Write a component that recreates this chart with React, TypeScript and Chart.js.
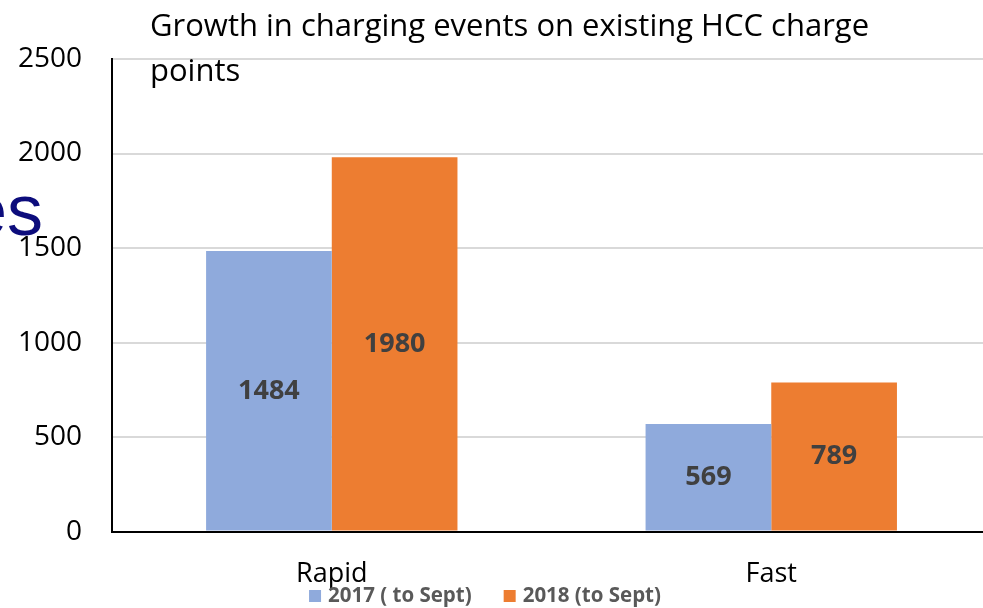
import React, { useEffect, useRef } from "react";
import { Chart, registerables } from "chart.js";

Chart.register(...registerables);

const categories = ["Rapid", "Fast"];
const seriesNames = ["2017 ( to Sept)", "2018 (to Sept)"];
const values2017 = [1484, 569];
const values2018 = [1980, 789];
const yTicks = [0, 500, 1000, 1500, 2000, 2500];
const titleLines = ["Growth in charging events on existing HCC charge", "points"];
const backgroundFragment = "es";

const BLUE = "#8faadc";
const ORANGE = "#ed7d31";
const FONT = "'Open Sans', 'Noto Sans', sans-serif";

const overlayPlugin = {
  id: "overlay",
  beforeDraw(chart: any) {
    const ctx = chart.ctx;
    ctx.save();
    ctx.fillStyle = "#0c0c7c";
    ctx.font = "72px 'Liberation Sans', Arial, sans-serif";
    ctx.textAlign = "right";
    ctx.textBaseline = "alphabetic";
    ctx.fillText(backgroundFragment, 43, 235);
    ctx.restore();
  },
  afterDatasetsDraw(chart: any) {
    const ctx = chart.ctx;
    ctx.save();
    ctx.font = `bold 27px ${FONT}`;
    ctx.fillStyle = "#404040";
    ctx.textAlign = "center";
    ctx.textBaseline = "middle";
    chart.data.datasets.forEach((ds: any, i: number) => {
      const meta = chart.getDatasetMeta(i);
      meta.data.forEach((bar: any, j: number) => {
        const y = (bar.y + bar.base) / 2;
        ctx.fillText(String(ds.data[j]), bar.x, y);
      });
    });
    ctx.restore();
  },
  afterDraw(chart: any) {
    const ctx = chart.ctx;
    ctx.save();
    // title
    ctx.font = `31px ${FONT}`;
    ctx.fillStyle = "#000000";
    ctx.textAlign = "left";
    ctx.textBaseline = "alphabetic";
    ctx.fillText(titleLines[0], 150, 36);
    ctx.fillText(titleLines[1], 150, 81);
    // legend
    ctx.font = `bold 20.5px ${FONT}`;
    ctx.textBaseline = "middle";
    const box = 12;
    const gap = 7;
    const spacing = 32;
    const items = chart.data.datasets.map((ds: any) => ({
      label: ds.label,
      color: ds.backgroundColor,
      w: ctx.measureText(ds.label).width,
    }));
    let total = 0;
    items.forEach((it: any, i: number) => {
      total += box + gap + it.w + (i < items.length - 1 ? spacing : 0);
    });
    let x = 485 - total / 2;
    const yc = 596;
    items.forEach((it: any) => {
      ctx.fillStyle = it.color;
      ctx.fillRect(x, yc - box / 2, box, box);
      x += box + gap;
      ctx.fillStyle = "#595959";
      ctx.fillText(it.label, x, yc);
      x += it.w + spacing;
    });
    ctx.restore();
  },
};

export default function App() {
  const ref = useRef<HTMLCanvasElement>(null);
  useEffect(() => {
    if (!ref.current) return;
    const chart = new Chart(ref.current, {
      type: "bar",
      data: {
        labels: categories,
        datasets: [
          { label: seriesNames[0], data: values2017, backgroundColor: BLUE },
          { label: seriesNames[1], data: values2018, backgroundColor: ORANGE },
        ],
      },
      options: {
        responsive: false,
        animation: false,
        layout: { padding: { left: -12, right: 0, top: 59, bottom: -10 } },
        plugins: {
          legend: { display: false },
          title: { display: false },
          tooltip: { enabled: false },
        },
        datasets: {
          bar: { categoryPercentage: 0.572, barPercentage: 1.0 },
        },
        scales: {
          x: {
            grid: { display: false, drawTicks: false },
            border: { display: true, color: "#000000", width: 2 },
            ticks: { color: "#000000", font: { family: FONT, size: 27 }, padding: 27 },
          },
          y: {
            min: 0,
            max: 2500,
            afterBuildTicks: (axis: any) => {
              axis.ticks = yTicks.map((v) => ({ value: v }));
            },
            grid: { color: "#d9d9d9", lineWidth: 2, drawTicks: false },
            border: { display: true, color: "#000000", width: 2 },
            ticks: {
              color: "#000000",
              font: { family: FONT, size: 28 },
              padding: 30,
              callback: (v: any) => String(v),
            },
          },
        },
      },
      plugins: [overlayPlugin],
    });
    return () => chart.destroy();
  }, []);
  return (
    <div
      style={{
        position: "fixed",
        left: 0,
        top: 0,
        width: 983,
        height: 608,
        overflow: "hidden",
        background: "#ffffff",
      }}
    >
      <canvas ref={ref} width={991} height={608} style={{ display: "block" }} />
    </div>
  );
}
